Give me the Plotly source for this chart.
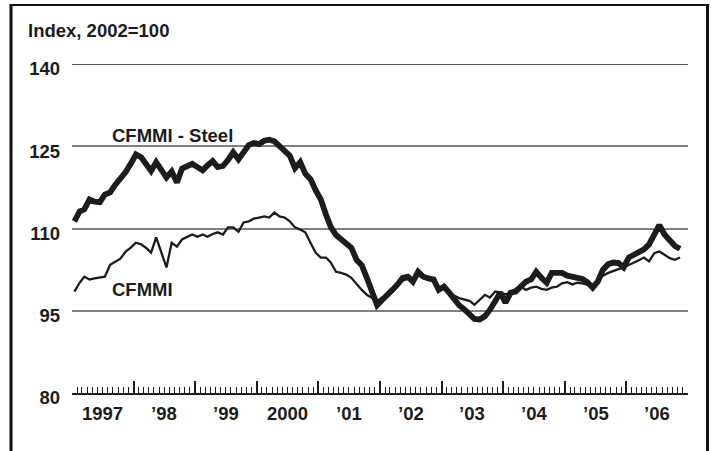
import plotly.graph_objects as go
import pandas as pd

# Monthly index values, Jan 1997 - Nov 2006 (2002=100)
steel = [111.3, 113.1, 113.5, 115.3, 114.9, 114.8, 116.2, 116.6, 118.0, 119.0, 120.3, 121.8,
         123.5, 123.0, 121.8, 120.5, 122.1, 120.8, 119.3, 120.4, 118.4, 120.9, 121.5, 121.8,
         121.2, 120.6, 121.5, 122.3, 121.2, 121.4, 122.5, 123.9, 122.6, 124.0, 125.2, 125.6,
         125.4, 126.0, 126.2, 125.9, 125.0, 124.3, 123.3, 121.0, 122.1, 120.0, 119.0, 117.0,
         115.3, 112.5, 110.3, 108.8, 108.0, 107.4, 106.5, 104.3, 103.3, 101.0, 98.5, 96.0,
         97.0, 97.8, 98.8, 99.8, 101.0, 101.2, 100.3, 102.1, 101.2, 100.9, 100.7, 98.8,
         99.4, 98.3, 97.0, 96.0, 95.3, 94.5, 93.5, 93.4, 94.0, 95.2, 97.0, 98.3,
         96.5, 98.3, 98.5, 99.3, 100.3, 100.7, 102.1, 101.0, 100.1, 101.9, 102.0, 101.9,
         101.4, 101.2, 101.0, 100.8, 100.2, 99.2, 100.3, 102.5, 103.5, 103.8, 103.7, 102.9,
         104.7, 105.3, 105.6, 106.2, 107.1, 109.0, 110.6, 108.9, 107.8, 106.8, 106.3]

cfmmi = [98.5, 100.1, 101.2, 100.7, 100.9, 101.0, 101.2, 103.4, 103.9, 104.5, 105.8, 106.5,
         107.4, 107.1, 106.5, 105.6, 108.4, 105.8, 102.9, 107.4, 106.7, 108.0, 108.5, 108.9,
         108.5, 108.9, 108.5, 109.0, 109.3, 108.9, 110.2, 110.2, 109.4, 111.1, 111.3, 111.8,
         112.0, 112.2, 112.0, 112.9, 112.2, 112.0, 111.3, 110.2, 109.8, 109.3, 107.4, 105.6,
         104.7, 104.7, 103.8, 102.1, 101.9, 101.6, 101.0, 99.8, 98.8, 97.9, 97.4, 96.8,
         97.4, 98.0, 98.8, 99.6, 100.5, 100.8, 100.5, 101.5, 101.0, 100.6, 100.3, 99.4,
         99.0, 98.3, 97.8, 97.3, 97.0, 96.8, 96.1, 97.0, 97.9, 97.4, 98.5, 98.3,
         98.0, 98.3, 99.0, 99.4, 98.8, 99.2, 99.4, 99.0, 98.8, 99.2, 99.4, 100.0,
         100.2, 99.8, 100.1, 100.0, 99.8, 99.5, 100.5, 101.4, 101.9, 102.3, 102.6, 102.9,
         103.3, 103.8, 104.2, 104.7, 104.0, 105.5, 105.8, 105.2, 104.6, 104.3, 104.7]

year_ticks = [str(y) + "-01-01" for y in range(1997, 2008)]
year_label_pos = [str(y) + "-07-02" for y in range(1997, 2007)]
year_labels = ["1997", "\u201998", "\u201999", "2000", "\u201901", "\u201902",
               "\u201903", "\u201904", "\u201905", "\u201906"]
y_ticks = [80, 95, 110, 125, 140]

dates = pd.date_range("1997-01-01", periods=len(steel), freq="MS") + pd.Timedelta(days=14)

FONT = "Liberation Sans, Arial, sans-serif"
FS = 18.5
INK = "#1c1c1c"

fig = go.Figure()
fig.add_trace(go.Scatter(x=dates, y=cfmmi, mode="lines", name="CFMMI",
                         line=dict(color=INK, width=2.3), showlegend=False))
fig.add_trace(go.Scatter(x=dates, y=steel, mode="lines", name="CFMMI - Steel",
                         line=dict(color=INK, width=5.8), showlegend=False))

fig.update_layout(
    width=711, height=451,
    margin=dict(l=72, r=23, t=64, b=58),
    paper_bgcolor="white", plot_bgcolor="white",
    font=dict(family=FONT, color=INK),
    xaxis=dict(
        type="date", range=["1997-01-01", "2007-01-01"],
        tickvals=year_ticks, showticklabels=False,
        ticks="inside", ticklen=12, tickwidth=1.5, tickcolor=INK,
        showline=True, linecolor=INK, linewidth=2,
        showgrid=False, zeroline=False,
        minor=dict(dtick="M1", ticks="inside", ticklen=6, tickwidth=1, tickcolor=INK, showgrid=False),
    ),
    yaxis=dict(
        range=[80, 140], tickvals=y_ticks, ticktext=[str(v) for v in y_ticks],
        showgrid=True, gridcolor="#808080", gridwidth=1.5,
        showline=False, zeroline=False, ticks="",
        ticklabelstandoff=11, ticklabelshift=5,
        tickfont=dict(family=FONT, size=FS, color=INK, weight="bold"),
    ),
)

# top 140 rule (dark)
fig.add_shape(type="line", xref="paper", yref="y", x0=0, x1=1, y0=140, y1=140,
              line=dict(color=INK, width=1.3))

# frame (left, top, right)
fig.add_shape(type="line", xref="paper", yref="paper", x0=-0.0990, x1=-0.0990, y0=-0.3, y1=1.1793,
              line=dict(color="#111", width=3))
fig.add_shape(type="line", xref="paper", yref="paper", x0=-0.1014, x1=1.0345, y0=1.1793, y1=1.1793,
              line=dict(color="#111", width=2))
fig.add_shape(type="line", xref="paper", yref="paper", x0=1.0317, x1=1.0317, y0=-0.3, y1=1.1793,
              line=dict(color="#111", width=3))

# year labels centered in each year
for pos, lab in zip(year_label_pos, year_labels):
    fig.add_annotation(x=pos, y=-0.0608, xref="x", yref="paper", text=lab, showarrow=False,
                       xanchor="center", yanchor="middle",
                       font=dict(family=FONT, size=FS, color=INK, weight="bold"))

fig.add_annotation(x=-0.0747, y=1.103, xref="paper", yref="paper", text="Index, 2002=100",
                   showarrow=False, xanchor="left", yanchor="middle",
                   font=dict(family=FONT, size=FS, color=INK, weight="bold"))

fig.add_annotation(x="1998-08-20", y=127.05, xref="x", yref="y", text="CFMMI - Steel",
                   showarrow=False, xanchor="center", yanchor="middle",
                   font=dict(family=FONT, size=FS, color=INK, weight="bold"))
fig.add_annotation(x="1998-02-25", y=98.8, xref="x", yref="y", text="CFMMI",
                   showarrow=False, xanchor="center", yanchor="middle",
                   font=dict(family=FONT, size=FS, color=INK, weight="bold"))

fig.write_html("out.html", config={"displayModeBar": False},
               post_script="document.body.style.margin='0';")
